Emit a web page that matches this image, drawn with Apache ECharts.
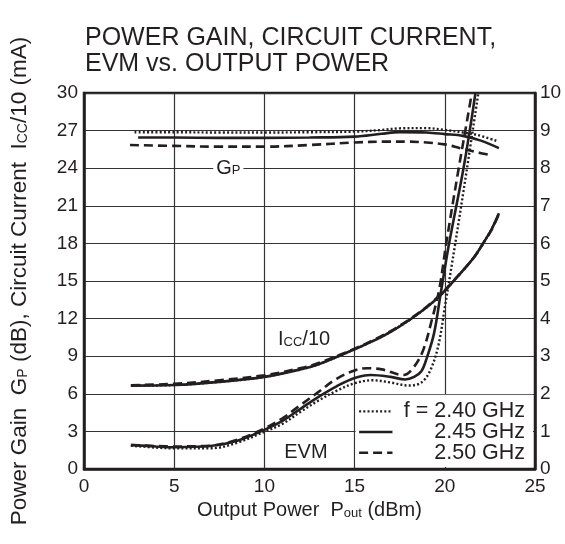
<!DOCTYPE html>
<html><head><meta charset="utf-8">
<script src="https://cdn.jsdelivr.net/npm/echarts@6/dist/echarts.min.js"></script>
<style>html,body{margin:0;padding:0;background:#fff}#c{width:565px;height:544px}</style>
</head><body><div id="c"></div>
<script>
// ---------- data ----------
const xTicks = [0, 5, 10, 15, 20, 25];
const leftTicks = [0, 3, 6, 9, 12, 15, 18, 21, 24, 27, 30];
const rightTicks = [0,1,2,3,4,5,6,7,8,9,10];

// Power gain Gp (dB, left axis)
const gpX240 = [2.8, 5, 7.5, 10, 12.5, 15, 16.5, 17.5, 19, 20, 21, 21.8, 22.9];
const gpY240 = [26.87, 26.87, 26.85, 26.85, 26.87, 26.92, 27.05, 27.18, 27.2, 27.05, 26.85, 26.65, 26.17];
const gpX245 = [3.0, 5, 7.5, 10, 12.5, 15, 16.5, 17.5, 19, 20, 21, 22, 23];
const gpY245 = [26.45, 26.45, 26.42, 26.42, 26.45, 26.52, 26.75, 26.88, 26.85, 26.72, 26.58, 26.2, 25.6];
const gpX250 = [2.55, 5, 7.5, 10, 12.5, 15, 16.7, 18, 19, 20, 20.85, 21.7, 22.5];
const gpY250 = [25.85, 25.78, 25.72, 25.72, 25.85, 26.05, 26.12, 26.12, 26.05, 25.9, 25.6, 25.3, 25.05];

// Circuit current Icc/10 (mA, left axis)
const iccX = [2.6, 5, 7.5, 10, 12, 13, 15, 16, 17, 18, 19, 19.75, 20.67, 21.6, 22.1, 22.6, 23];
const iccY240 = [6.65, 6.7, 6.95, 7.35, 7.95, 8.35, 9.55, 10.2, 10.95, 11.85, 12.9, 13.85, 15.3, 16.85, 17.95, 19.15, 20.4];
const iccY245 = [6.65, 6.7, 6.95, 7.35, 7.95, 8.35, 9.55, 10.2, 10.95, 11.85, 12.9, 13.85, 15.3, 16.85, 17.95, 19.15, 20.4];
const iccY250 = [6.68, 6.8, 7.08, 7.48, 8.05, 8.45, 9.6, 10.25, 11.0, 11.9, 12.95, 13.9, 15.3, 16.85, 17.95, 19.1, 20.35];

// EVM (%, right axis)
const evmX240 = [2.6, 4, 5, 7, 8.5, 10, 11, 12, 13, 14, 15, 16, 17, 18, 18.7, 19.2, 19.65, 20.0, 20.58, 21.2, 21.86];
const evmY240 = [0.62, 0.57, 0.55, 0.55, 0.7, 0.99, 1.2, 1.52, 1.82, 2.08, 2.28, 2.36, 2.3, 2.22, 2.3, 2.63, 3.3, 4.3, 6.0, 7.9, 10];
const evmX245 = [2.6, 4, 5, 7, 8.5, 10, 11, 12, 13, 14, 15, 15.9, 17, 17.8, 18.3, 18.7, 19.0, 19.4, 19.75, 20.2, 20.6, 21.0, 21.35, 21.7];
const evmY245 = [0.64, 0.6, 0.58, 0.61, 0.75, 1.04, 1.28, 1.6, 1.92, 2.2, 2.42, 2.5, 2.45, 2.38, 2.45, 2.6, 2.95, 3.6, 4.6, 5.9, 6.9, 7.9, 8.9, 10];
const evmX250 = [2.6, 4, 5, 7, 8.5, 10, 11, 12, 13, 14, 15, 15.7, 16.5, 17.7, 18.25, 18.8, 19.3, 19.7, 20.08, 20.7, 21.1, 21.5];
const evmY250 = [0.64, 0.61, 0.6, 0.62, 0.78, 1.08, 1.35, 1.7, 2.05, 2.4, 2.62, 2.68, 2.65, 2.5, 2.69, 3.16, 4.0, 4.8, 6.0, 7.8, 8.9, 10];

const legendRows = ['f = 2.40 GHz', '2.45 GHz', '2.50 GHz'];

// ---------- chart ----------
const FONT = 'Liberation Sans, Arial, Helvetica, sans-serif';
const INK = '#231f20';
const zip = (xs, ys) => xs.map((x, i) => [x, ys[i]]);
const styles = {
  dot: { type: [2, 2.2], width: 2.4 },
  solid: { type: 'solid', width: 2.6 },
  dash: { type: [9, 5], width: 2.6 }
};
function mk(name, xs, ys, st, yIdx) {
  return {
    name, type: 'line', yAxisIndex: yIdx, data: zip(xs, ys), smooth: 0.35,
    showSymbol: false, symbol: 'none', z: 5, clip: true,
    lineStyle: { color: INK, width: st.width, type: st.type, cap: 'butt' },
    emphasis: { disabled: true }, silent: true
  };
}
const sub = (fs) => ({ fontFamily: FONT, fontSize: fs, color: INK, fill: INK, verticalAlign: 'bottom', padding: [0, 0, 1, 0] });

const chart = echarts.init(document.getElementById('c'), null, { renderer: 'canvas' });
const option = {
  animation: false,
  backgroundColor: '#fff',
  textStyle: { fontFamily: FONT, color: INK },
  title: {
    text: 'POWER GAIN, CIRCUIT CURRENT,\nEVM vs. OUTPUT POWER',
    left: 80, top: 20,
    textStyle: { fontFamily: FONT, fontSize: 25, fontWeight: 'normal', color: INK, lineHeight: 26 }
  },
  grid: { left: 83, right: 30, top: 93, bottom: 75, show: true, borderColor: INK, borderWidth: 2.5, backgroundColor: 'transparent' },
  xAxis: {
    type: 'value', min: xTicks[0], max: xTicks[xTicks.length - 1], interval: 5,
    axisLine: { show: true, lineStyle: { color: INK, width: 2.5 } },
    axisTick: { show: false },
    axisLabel: { fontFamily: FONT, fontSize: 19, color: INK, margin: 8 },
    splitLine: { show: true, lineStyle: { color: '#333', width: 1.2 } },
    name: 'Output Power  P{s|out} (dBm)', nameLocation: 'middle', nameGap: 31,
    nameTextStyle: { fontFamily: FONT, fontSize: 20, color: INK, rich: { s: sub(13) } }
  },
  yAxis: [{
    type: 'value', min: leftTicks[0], max: leftTicks[leftTicks.length - 1], interval: 3, position: 'left',
    axisLine: { show: true, lineStyle: { color: INK, width: 2.5 } },
    axisTick: { show: false },
    axisLabel: { fontFamily: FONT, fontSize: 19, color: INK, margin: 6 },
    splitLine: { show: true, lineStyle: { color: '#333', width: 1.2 } },
    name: 'Power Gain  G{s|P} (dB), Circuit Current  I{s|CC}/10 (mA)',
    nameLocation: 'middle', nameRotate: 90, nameGap: 53,
    nameTextStyle: { fontFamily: FONT, fontSize: 22.5, color: INK, rich: { s: sub(14) } }
  }, {
    type: 'value', min: rightTicks[0], max: rightTicks[rightTicks.length - 1], interval: 1, position: 'right',
    axisLine: { show: true, lineStyle: { color: INK, width: 2.5 } },
    axisTick: { show: false },
    axisLabel: { fontFamily: FONT, fontSize: 19, color: INK, margin: 5 },
    splitLine: { show: false }
  }],
  series: [
    mk('Gp 2.40', gpX240, gpY240, styles.dot, 0),
    mk('Gp 2.45', gpX245, gpY245, styles.solid, 0),
    mk('Gp 2.50', gpX250, gpY250, styles.dash, 0),
    mk('Icc 2.40', iccX, iccY240, styles.dot, 0),
    mk('Icc 2.50', iccX, iccY250, styles.dash, 0),
    mk('Icc 2.45', iccX, iccY245, styles.solid, 0),
    mk('EVM 2.40', evmX240, evmY240, styles.dot, 1),
    mk('EVM 2.45', evmX245, evmY245, styles.solid, 1),
    mk('EVM 2.50', evmX250, evmY250, styles.dash, 1)
  ]
};
chart.setOption(option);

// annotations placed via the axes' own scales
const P = (x, y) => chart.convertToPixel({ xAxisIndex: 0, yAxisIndex: 0 }, [x, y]);
const a = P(15, 6), b = P(25, 0);
const g = [];
// white legend area hiding grid lines
g.push({ type: 'rect', z: 3, shape: { x: a[0] + 1, y: a[1] + 1, width: b[0] - a[0] - 3, height: b[1] - a[1] - 3 },
  style: { fill: '#fff' } });
const lx0 = P(15.25, 0)[0], lx1 = P(17.1, 0)[0], tx = P(24.45, 0)[0];
const rowY = [P(0, 4.6)[1], P(0, 2.95)[1], P(0, 1.3)[1]];
const legendStyles = [styles.dot, styles.solid, styles.dash];
legendRows.forEach((t, i) => {
  g.push({ type: 'line', z: 6, shape: { x1: lx0, y1: rowY[i], x2: lx1, y2: rowY[i] },
    style: { stroke: INK, lineWidth: legendStyles[i].width, lineDash: Array.isArray(legendStyles[i].type) ? legendStyles[i].type : null } });
  g.push({ type: 'text', z: 6, x: tx, y: rowY[i],
    style: { text: t, fontFamily: FONT, fontSize: 21.5, fill: INK, align: 'right', verticalAlign: 'middle' } });
});
// curve labels
const gp = P(8.0, 24);
g.push({ type: 'text', z: 6, x: gp[0], y: gp[1],
  style: { text: 'G{s|P}', fontFamily: FONT, fontSize: 20, fill: INK, align: 'center', verticalAlign: 'middle',
    backgroundColor: '#fff', padding: [2, 3, 2, 3], rich: { s: sub(13) } } });
const ic = P(12.2, 10.3);
g.push({ type: 'text', z: 6, x: ic[0], y: ic[1],
  style: { text: 'I{s|CC}/10', fontFamily: FONT, fontSize: 20, fill: INK, align: 'center', verticalAlign: 'middle',
    rich: { s: sub(13) } } });
const ev = P(12.3, 1.35);
g.push({ type: 'text', z: 6, x: ev[0], y: ev[1],
  style: { text: 'EVM', fontFamily: FONT, fontSize: 20, fill: INK, align: 'center', verticalAlign: 'middle' } });
chart.setOption({ graphic: { elements: g } });
</script>
</body></html>
